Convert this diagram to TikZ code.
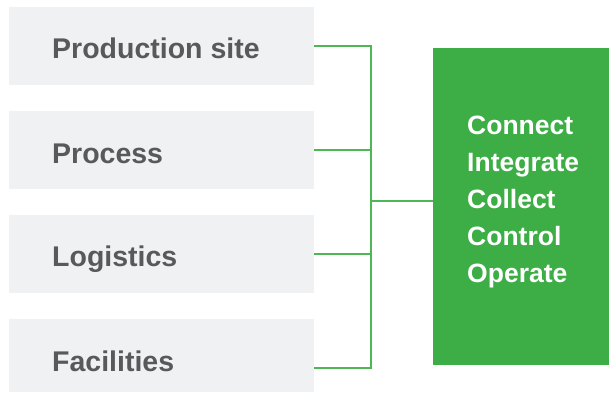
\documentclass[tikz,border=0pt]{standalone}
\usepackage{fontspec}
\setmainfont{Liberation Sans}
\definecolor{boxgray}{HTML}{F0F1F3}
\definecolor{txtgray}{HTML}{58595B}
\definecolor{boxgreen}{HTML}{3DAE46}
\definecolor{linegreen}{HTML}{4DB853}
\begin{document}
\begin{tikzpicture}[x=1pt,y=-1pt,
  graybox/.style={draw=none,fill=boxgray,rectangle,anchor=north west,minimum width=305pt,inner sep=0pt},
  graytxt/.style={anchor=base west,inner sep=0pt,text=txtgray,font=\fontsize{28.5}{32}\selectfont\bfseries},
  conn/.style={draw=linegreen,line width=1.6pt}]
\useasboundingbox (0,0) rectangle (609,393);
\node[graybox,minimum height=78pt] (b1) at (9,7) {};
\node[graybox,minimum height=78pt] (b2) at (9,111) {};
\node[graybox,minimum height=78pt] (b3) at (9,215) {};
\node[graybox,minimum height=73pt] (b4) at (9,319) {};
\node[graytxt] (t1) at (52,59) {Production site};
\node[graytxt] (t2) at (52,163) {Process};
\node[graytxt] (t3) at (52,266) {Logistics};
\node[graytxt] (t4) at (52,371) {Facilities};
\node[fill=boxgreen,rectangle,anchor=north west,minimum width=176pt,minimum height=317pt,inner sep=0pt] (g) at (433,48) {};
\node[anchor=base west,inner sep=0pt,text=white,align=left,font=\fontsize{26.5}{37}\selectfont\bfseries] (gt) at (467,282) {Connect\\Integrate\\Collect\\Control\\Operate};
\coordinate (top) at (371,45);
\coordinate (bot) at (371,368);
\coordinate (j) at (371,201);
\coordinate (e4) at (314,368);
\draw[conn] (b1.east) -- (b1.east -| top) -- (bot) -- (e4);
\draw[conn] (b2.east) -- (b2.east -| top);
\draw[conn] (b3.east) -- (b3.east -| top);
\draw[conn] (j) -- (j -| g.west);
\end{tikzpicture}
\end{document}
